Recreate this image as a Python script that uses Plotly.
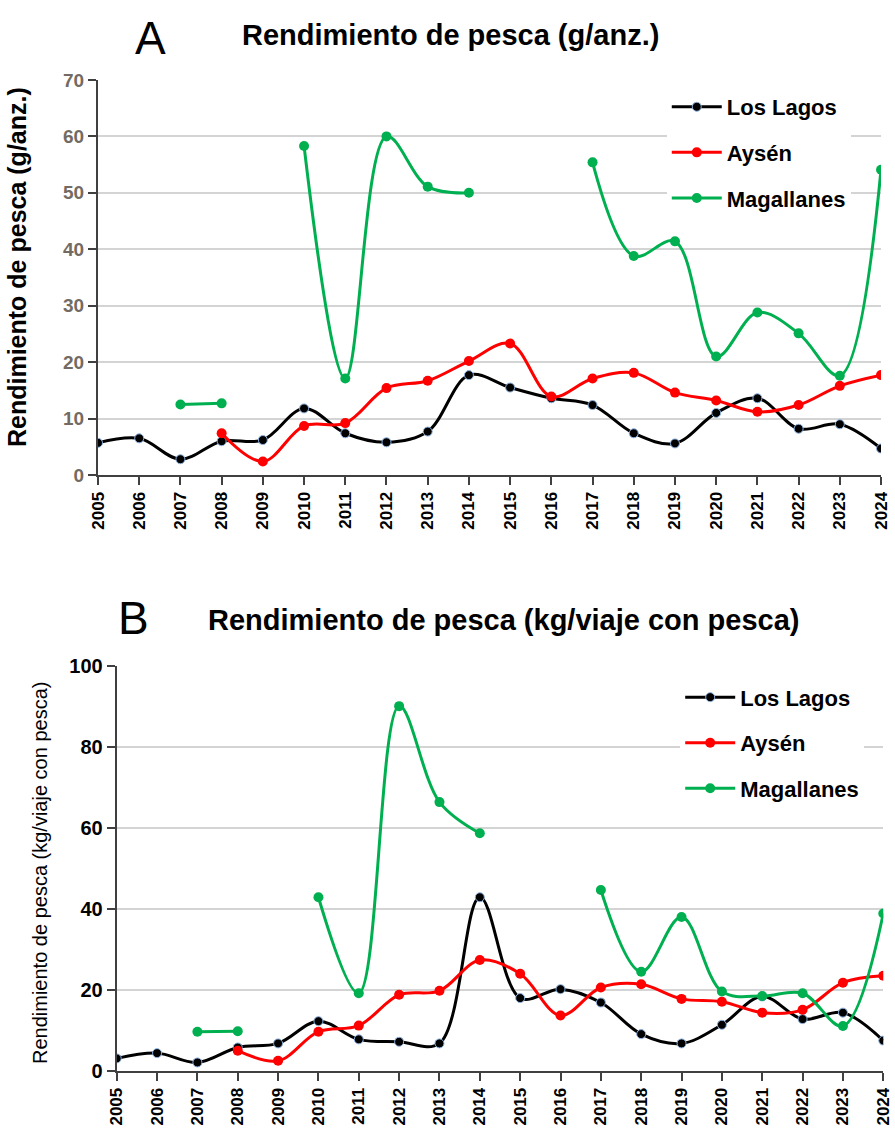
import plotly.graph_objects as go

# years on the x axis
YEARS = list(range(2005, 2025))

# A: rendimiento de pesca (g/anz.)
A_LOS_LAGOS = [5.7, 6.5, 2.8, 6.0, 6.2, 11.8, 7.4, 5.8, 7.7, 17.7,
               15.5, 13.6, 12.4, 7.4, 5.6, 11.0, 13.6, 8.2, 9.0, 4.7]
A_AYSEN = [None, None, None, 7.4, 2.4, 8.7, 9.2, 15.4, 16.7, 20.2,
           23.3, 13.9, 17.1, 18.1, 14.6, 13.2, 11.2, 12.4, 15.8, 17.7]
A_MAGALLANES = [None, None, 12.5, 12.7, None, 58.3, 17.1, 60.0, 51.1, 50.0,
                None, None, 55.4, 38.8, 41.4, 21.0, 28.8, 25.1, 17.6, 54.1]

# B: rendimiento de pesca (kg/viaje con pesca)
B_LOS_LAGOS = [3.1, 4.4, 2.1, 5.8, 6.8, 12.3, 7.8, 7.2, 6.8, 42.9,
               18.0, 20.2, 16.9, 9.1, 6.8, 11.4, 18.4, 12.8, 14.4, 7.5]
B_AYSEN = [None, None, None, 5.0, 2.5, 9.7, 11.2, 18.8, 19.8, 27.4,
           24.0, 13.7, 20.6, 21.4, 17.8, 17.1, 14.4, 15.1, 21.8, 23.5]
B_MAGALLANES = [None, None, 9.7, 9.8, None, 42.9, 19.2, 90.1, 66.4, 58.7,
                None, None, 44.7, 24.5, 38.0, 19.6, 18.5, 19.2, 11.1, 38.9]

A_TICKS = [0, 10, 20, 30, 40, 50, 60, 70]
B_TICKS = [0, 20, 40, 60, 80, 100]

FONT = "Liberation Sans Narrow, Arial Narrow, Liberation Sans, Arial"
BLACK = "#000000"
RED = "#FF0000"
GREEN = "#00B050"
GRID = "#D4D4D4"
AXIS = "#404040"

SERIES = [
    ("Los Lagos", BLACK, dict(color=BLACK, size=9, line=dict(color="#8DB4E2", width=1))),
    ("Aysén", RED, dict(color=RED, size=10)),
    ("Magallanes", GREEN, dict(color=GREEN, size=10)),
]

fig = go.Figure()


def add_series(values_list, xaxis, yaxis, legend, tag):
    for (name, color, marker), values in zip(SERIES, values_list):
        fig.add_trace(go.Scatter(
            x=YEARS, y=values, name=name, mode="lines+markers",
            line=dict(color=color, width=3, shape="spline", smoothing=1.0),
            marker=marker, connectgaps=False,
            xaxis=xaxis, yaxis=yaxis, legend=legend,
            legendgroup=tag + name,
        ))


add_series([A_LOS_LAGOS, A_AYSEN, A_MAGALLANES], "x", "y", "legend", "a")
add_series([B_LOS_LAGOS, B_AYSEN, B_MAGALLANES], "x2", "y2", "legend2", "b")

xaxis_common = dict(
    tickmode="array", tickvals=YEARS, ticktext=[str(y) for y in YEARS],
    tickangle=-90, range=[2005, 2024], showgrid=False, zeroline=False,
    showline=True, linecolor=AXIS, linewidth=2, automargin=False,
    ticks="outside", ticklen=8, tickwidth=2, tickcolor=AXIS,
    tickfont=dict(family=FONT, size=17, color=BLACK, weight="bold"),
)
yaxis_common = dict(
    showgrid=True, gridcolor=GRID, gridwidth=2, zeroline=False,
    showline=True, linecolor=AXIS, linewidth=2, automargin=False,
    ticks="outside", ticklen=8, tickwidth=2, tickcolor=AXIS,
)

legend_common = dict(
    bgcolor="white", borderwidth=0, xanchor="left", yanchor="top",
    font=dict(family=FONT, size=22, color=BLACK, weight="bold"),
    itemwidth=50, tracegroupgap=14,
)

fig.update_layout(
    width=895, height=1131,
    margin=dict(l=0, r=0, t=0, b=0),
    paper_bgcolor="white", plot_bgcolor="white",
    showlegend=True,
    xaxis=dict(domain=[0.1095, 0.9844], anchor="y", **xaxis_common),
    yaxis=dict(domain=[0.58, 0.9293], anchor="x", range=[0, 70],
               tickvals=A_TICKS, **yaxis_common,
               tickfont=dict(family=FONT, size=19, color="#736B63", weight="bold")),
    xaxis2=dict(domain=[0.1304, 0.9869], anchor="y2", **xaxis_common),
    yaxis2=dict(domain=[0.0531, 0.4111], anchor="x2", range=[0, 100],
                tickvals=B_TICKS, **yaxis_common,
                tickfont=dict(family=FONT, size=20, color=BLACK, weight="bold")),
    legend=dict(x=0.745, y=0.924, **legend_common),
    legend2=dict(x=0.76, y=0.402, **legend_common),
)

annotations = [
    dict(text="A", x=150, y=38, size=46, family="Liberation Sans, Arial"),
    dict(text="<b>Rendimiento de pesca (g/anz.)</b>", x=450, y=35, size=29, family=FONT),
    dict(text="B", x=133, y=618, size=46, family="Liberation Sans, Arial"),
    dict(text="<b>Rendimiento de pesca (kg/viaje con pesca)</b>", x=504, y=620, size=29, family=FONT),
]
for a in annotations:
    fig.add_annotation(
        text=a["text"], xref="paper", yref="paper",
        x=a["x"] / 895, y=1 - a["y"] / 1131, xanchor="center", yanchor="middle",
        showarrow=False, font=dict(family=a["family"], size=a["size"], color=BLACK),
    )

fig.add_annotation(
    text="<b>Rendimiento de pesca (g/anz.)</b>", xref="paper", yref="paper",
    x=17 / 895, y=1 - 267 / 1131, xanchor="center", yanchor="middle",
    textangle=-90, showarrow=False,
    font=dict(family=FONT, size=25, color=BLACK),
)
fig.add_annotation(
    text="Rendimiento de pesca (kg/viaje con pesca)", xref="paper", yref="paper",
    x=40 / 895, y=1 - 873 / 1131, xanchor="center", yanchor="middle",
    textangle=-90, showarrow=False,
    font=dict(family=FONT, size=20, color=BLACK),
)

# the page body has a default 8px margin; drop it so the figure fills the window
fig.write_html(
    "out.html",
    config={"displayModeBar": False},
    post_script="document.body.style.margin='0';document.body.style.overflow='hidden';",
)
